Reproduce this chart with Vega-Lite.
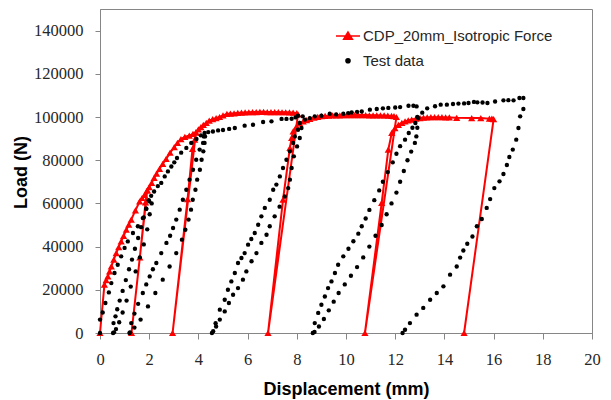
{
  "$schema": "https://vega.github.io/schema/vega-lite/v6.json",
  "width": 492,
  "height": 324,
  "autosize": {"type": "none"},
  "padding": {"left": 100, "top": 9, "right": 19, "bottom": 67},
  "background": "white",
  "config": {
    "view": {"stroke": "#868686", "strokeWidth": 1},
    "axis": {
      "grid": false,
      "domainColor": "#868686",
      "tickColor": "#868686",
      "labelFont": "Liberation Sans Narrow",
      "labelFontSize": 16.5,
      "labelColor": "#262626",
      "titleFont": "Liberation Sans",
      "titleFontWeight": "bold",
      "titleFontSize": 18,
      "titleColor": "#000000"
    }
  },
  "datasets": {
    "cdp": [
      {"i":1,"x":0,"y":0},{"i":2,"x":0.18,"y":22400},{"i":3,"x":0.25,"y":24500},{"i":4,"x":0.32,"y":26200},{"i":5,"x":0.39,"y":28500},{"i":6,"x":0.46,"y":30800},{"i":7,"x":0.56,"y":34000},{"i":8,"x":0.66,"y":37000},{"i":9,"x":0.76,"y":39800},{"i":10,"x":0.86,"y":42400},{"i":11,"x":0.96,"y":45000},{"i":12,"x":1.07,"y":47800},{"i":13,"x":1.17,"y":50200},{"i":14,"x":1.27,"y":52500},{"i":15,"x":1.44,"y":56800},{"i":16,"x":1.61,"y":60900},{"i":17,"x":1.71,"y":62500},{"i":18,"x":1.81,"y":64000},{"i":19,"x":1.92,"y":66000},
      {"i":20,"x":1.28,"y":0},{"i":21,"x":1.62,"y":35000},{"i":22,"x":1.85,"y":60500},{"i":23,"x":1.92,"y":66000},{"i":24,"x":2.0,"y":67500},{"i":25,"x":2.1,"y":69500},{"i":26,"x":2.2,"y":71800},{"i":27,"x":2.3,"y":73800},{"i":28,"x":2.42,"y":76000},{"i":29,"x":2.55,"y":78300},{"i":30,"x":2.69,"y":80600},{"i":31,"x":2.85,"y":83500},{"i":32,"x":3.02,"y":86000},{"i":33,"x":3.15,"y":88000},{"i":34,"x":3.29,"y":89800},{"i":35,"x":3.45,"y":90800},{"i":36,"x":3.63,"y":91400},{"i":37,"x":3.78,"y":92200},{"i":38,"x":3.9,"y":92900},
      {"i":39,"x":2.95,"y":0},{"i":40,"x":3.56,"y":62000},{"i":41,"x":3.76,"y":85200},{"i":42,"x":3.85,"y":89500},{"i":43,"x":3.9,"y":92900},{"i":44,"x":4.0,"y":94300},{"i":45,"x":4.1,"y":95300},{"i":46,"x":4.2,"y":96300},{"i":47,"x":4.32,"y":97300},{"i":48,"x":4.44,"y":98300},{"i":49,"x":4.58,"y":99000},{"i":50,"x":4.72,"y":99500},{"i":51,"x":4.86,"y":100000},{"i":52,"x":5.0,"y":100700},{"i":53,"x":5.16,"y":101400},{"i":54,"x":5.3,"y":101600},{"i":55,"x":5.45,"y":101700},{"i":56,"x":5.6,"y":101900},{"i":57,"x":5.75,"y":102000},{"i":58,"x":5.9,"y":102100},{"i":59,"x":6.05,"y":102200},{"i":60,"x":6.2,"y":102300},{"i":61,"x":6.35,"y":102300},{"i":62,"x":6.5,"y":102400},{"i":63,"x":6.65,"y":102400},{"i":64,"x":6.8,"y":102300},{"i":65,"x":6.95,"y":102300},{"i":66,"x":7.1,"y":102300},{"i":67,"x":7.25,"y":102300},{"i":68,"x":7.4,"y":102200},{"i":69,"x":7.55,"y":102200},{"i":70,"x":7.7,"y":102100},{"i":71,"x":7.85,"y":102000},{"i":72,"x":8.0,"y":101800},{"i":73,"x":8.05,"y":101200},
      {"i":74,"x":6.83,"y":0},{"i":75,"x":7.44,"y":61700},{"i":76,"x":7.72,"y":85700},{"i":77,"x":7.79,"y":90300},{"i":78,"x":7.85,"y":93300},{"i":79,"x":7.99,"y":95700},{"i":80,"x":8.12,"y":97000},{"i":81,"x":8.26,"y":98000},{"i":82,"x":8.4,"y":98600},{"i":83,"x":8.53,"y":99100},{"i":84,"x":8.7,"y":99700},{"i":85,"x":8.85,"y":100100},{"i":86,"x":9.0,"y":100400},{"i":87,"x":9.15,"y":100500},{"i":88,"x":9.3,"y":100600},{"i":89,"x":9.45,"y":100700},{"i":90,"x":9.6,"y":100800},{"i":91,"x":9.75,"y":100800},{"i":92,"x":9.9,"y":100900},{"i":93,"x":10.05,"y":100900},{"i":94,"x":10.2,"y":100900},{"i":95,"x":10.35,"y":100900},{"i":96,"x":10.5,"y":100900},{"i":97,"x":10.65,"y":100900},{"i":98,"x":10.8,"y":100900},{"i":99,"x":10.95,"y":100800},{"i":100,"x":11.1,"y":100800},{"i":101,"x":11.25,"y":100800},{"i":102,"x":11.4,"y":100700},{"i":103,"x":11.55,"y":100700},{"i":104,"x":11.7,"y":100600},{"i":105,"x":11.85,"y":100500},{"i":106,"x":11.95,"y":100400},{"i":107,"x":12.05,"y":100000},
      {"i":108,"x":10.77,"y":0},{"i":109,"x":11.45,"y":60200},{"i":110,"x":11.72,"y":84900},{"i":111,"x":11.86,"y":92600},{"i":112,"x":11.99,"y":94900},{"i":113,"x":12.13,"y":96400},{"i":114,"x":12.27,"y":97300},{"i":115,"x":12.4,"y":98000},{"i":116,"x":12.53,"y":98400},{"i":117,"x":12.67,"y":98800},{"i":118,"x":12.84,"y":99200},{"i":119,"x":13.01,"y":99500},{"i":120,"x":13.15,"y":99700},{"i":121,"x":13.3,"y":99800},{"i":122,"x":13.45,"y":99900},{"i":123,"x":13.6,"y":99900},{"i":124,"x":13.75,"y":99900},{"i":125,"x":13.9,"y":99900},{"i":126,"x":14.05,"y":99800},{"i":127,"x":14.2,"y":99800},{"i":128,"x":14.5,"y":99600},{"i":129,"x":15.11,"y":99500},{"i":130,"x":15.48,"y":99500},{"i":131,"x":15.83,"y":99200},{"i":132,"x":15.93,"y":99200},{"i":133,"x":16.0,"y":99000},
      {"i":134,"x":14.8,"y":0}
    ],
    "test": [
      {"x":0,"y":0},{"x":0,"y":6200},{"x":0.11,"y":9500},{"x":0.22,"y":13900},{"x":0.36,"y":18800},{"x":0.46,"y":23100},{"x":0.59,"y":27800},{"x":0.72,"y":31600},{"x":0.86,"y":35500},{"x":1.0,"y":39400},{"x":1.13,"y":42400},{"x":1.34,"y":46300},{"x":1.54,"y":49400},{"x":1.74,"y":53200},{"x":1.88,"y":57500},{"x":2.0,"y":61000},{"x":2.08,"y":63500},
      {"x":2.1,"y":60000},{"x":2.02,"y":55000},{"x":1.92,"y":48000},{"x":1.78,"y":41000},{"x":1.62,"y":35000},{"x":1.45,"y":28500},{"x":1.25,"y":21500},{"x":1.08,"y":15000},{"x":0.92,"y":9500},{"x":0.78,"y":5000},{"x":0.65,"y":1800},{"x":0.57,"y":300},
      {"x":0.53,"y":0},{"x":0.55,"y":4600},{"x":0.63,"y":7700},{"x":0.7,"y":11000},{"x":0.8,"y":15000},{"x":0.92,"y":19500},{"x":1.05,"y":24500},{"x":1.18,"y":29500},{"x":1.3,"y":34000},{"x":1.42,"y":39000},{"x":1.55,"y":44000},{"x":1.67,"y":49000},{"x":1.78,"y":53500},{"x":1.88,"y":57500},{"x":1.98,"y":61500},
      {"x":2.2,"y":65500},{"x":2.35,"y":68000},{"x":2.49,"y":69500},{"x":2.63,"y":72500},{"x":2.76,"y":74800},{"x":2.9,"y":77100},{"x":3.02,"y":79000},{"x":3.13,"y":81000},{"x":3.3,"y":83500},{"x":3.51,"y":85700},{"x":3.71,"y":88000},{"x":3.92,"y":89800},{"x":4.1,"y":91500},{"x":4.25,"y":92600},
      {"x":4.27,"y":91000},{"x":4.25,"y":88000},{"x":4.2,"y":84100},{"x":4.13,"y":80200},{"x":4.06,"y":75600},{"x":3.95,"y":71000},{"x":3.88,"y":66300},{"x":3.77,"y":61700},{"x":3.7,"y":57100},{"x":3.6,"y":52500},{"x":3.47,"y":47800},{"x":3.33,"y":43200},{"x":3.1,"y":37000},{"x":2.83,"y":30800},{"x":2.55,"y":24700},{"x":2.25,"y":18500},{"x":1.95,"y":12300},{"x":1.65,"y":6200},{"x":1.4,"y":2500},{"x":1.22,"y":300},
      {"x":1.2,"y":0},{"x":1.27,"y":4600},{"x":1.4,"y":9000},{"x":1.55,"y":13500},{"x":1.74,"y":18500},{"x":1.88,"y":22500},{"x":2.02,"y":26200},{"x":2.15,"y":29500},{"x":2.29,"y":32400},{"x":2.49,"y":37000},{"x":2.7,"y":41700},{"x":2.85,"y":45000},{"x":2.97,"y":48600},{"x":3.1,"y":52500},{"x":3.24,"y":57100},{"x":3.37,"y":61700},{"x":3.51,"y":66300},{"x":3.64,"y":71000},{"x":3.78,"y":75600},{"x":3.91,"y":80200},{"x":4.05,"y":84900},{"x":4.19,"y":88000},{"x":4.22,"y":91000},
      {"x":4.4,"y":93000},{"x":4.59,"y":93300},{"x":4.8,"y":93800},{"x":5.0,"y":94000},{"x":5.25,"y":94500},{"x":5.48,"y":94900},{"x":5.88,"y":96000},{"x":6.22,"y":96400},{"x":6.63,"y":97700},{"x":6.97,"y":98000},{"x":7.38,"y":99100},{"x":7.58,"y":99100},{"x":7.79,"y":99200},{"x":7.95,"y":99800},{"x":8.05,"y":100600},
      {"x":8.24,"y":100300},{"x":8.19,"y":94900},{"x":8.12,"y":90300},{"x":8.01,"y":86400},{"x":7.88,"y":81800},{"x":7.79,"y":76400},{"x":7.72,"y":71000},{"x":7.65,"y":67100},{"x":7.51,"y":63200},{"x":7.3,"y":58500},{"x":7.1,"y":54000},{"x":6.9,"y":49400},{"x":6.77,"y":45500},{"x":6.56,"y":41700},{"x":6.36,"y":37000},{"x":6.16,"y":33200},{"x":5.95,"y":28500},{"x":5.81,"y":24700},{"x":5.61,"y":20800},{"x":5.41,"y":17700},{"x":5.24,"y":13900},{"x":5.07,"y":10000},{"x":4.87,"y":6200},{"x":4.72,"y":3000},{"x":4.6,"y":800},
      {"x":4.55,"y":0},{"x":4.7,"y":4500},{"x":4.87,"y":10800},{"x":5.07,"y":15400},{"x":5.2,"y":20000},{"x":5.34,"y":23900},{"x":5.48,"y":27800},{"x":5.61,"y":32400},{"x":5.75,"y":34700},{"x":5.88,"y":37000},{"x":6.02,"y":40900},{"x":6.15,"y":43500},{"x":6.29,"y":46300},{"x":6.43,"y":50100},{"x":6.56,"y":54000},{"x":6.7,"y":57900},{"x":6.9,"y":61700},{"x":7.04,"y":66300},{"x":7.17,"y":68700},{"x":7.31,"y":72500},{"x":7.44,"y":76400},{"x":7.58,"y":80200},{"x":7.72,"y":84100},{"x":7.85,"y":88000},{"x":7.92,"y":91000},{"x":8.05,"y":94100},{"x":8.12,"y":97200},
      {"x":8.33,"y":98800},{"x":8.53,"y":99500},{"x":8.73,"y":100300},{"x":9.0,"y":100600},{"x":9.34,"y":101500},{"x":9.6,"y":101200},{"x":9.89,"y":101500},{"x":10.09,"y":101800},{"x":10.23,"y":102100},{"x":10.45,"y":102400},{"x":10.64,"y":102600},{"x":10.97,"y":103400},{"x":11.25,"y":103700},{"x":11.5,"y":104000},{"x":11.72,"y":104200},{"x":12.0,"y":104400},{"x":12.2,"y":104600},{"x":12.54,"y":105200},{"x":12.74,"y":105200},{"x":12.87,"y":104900},
      {"x":12.9,"y":100000},{"x":12.9,"y":95000},{"x":12.86,"y":91000},{"x":12.8,"y":88000},{"x":12.65,"y":84000},{"x":12.5,"y":80000},{"x":12.35,"y":75000},{"x":12.2,"y":70000},{"x":12.05,"y":65000},{"x":11.85,"y":60000},{"x":11.65,"y":55000},{"x":11.45,"y":50000},{"x":11.2,"y":45000},{"x":10.95,"y":40000},{"x":10.7,"y":35000},{"x":10.45,"y":30500},{"x":10.2,"y":26500},{"x":9.95,"y":22500},{"x":9.7,"y":18500},{"x":9.5,"y":14500},{"x":9.3,"y":10500},{"x":9.1,"y":6500},{"x":8.9,"y":3000},{"x":8.72,"y":500},
      {"x":8.65,"y":0},{"x":8.73,"y":4600},{"x":8.87,"y":9300},{"x":9.0,"y":13100},{"x":9.14,"y":16900},{"x":9.27,"y":20800},{"x":9.41,"y":23900},{"x":9.55,"y":27800},{"x":9.68,"y":31600},{"x":9.89,"y":35500},{"x":10.1,"y":39000},{"x":10.3,"y":42500},{"x":10.5,"y":46000},{"x":10.64,"y":49400},{"x":10.8,"y":53000},{"x":10.95,"y":57000},{"x":11.15,"y":61500},{"x":11.35,"y":66000},{"x":11.5,"y":70000},{"x":11.7,"y":74500},{"x":11.9,"y":79000},{"x":12.05,"y":83000},{"x":12.2,"y":86500},{"x":12.4,"y":89500},{"x":12.55,"y":92600},{"x":12.7,"y":95000},{"x":12.82,"y":97200},{"x":12.94,"y":99500},
      {"x":13.1,"y":102000},{"x":13.3,"y":104000},{"x":13.62,"y":105000},{"x":13.85,"y":105700},{"x":14.1,"y":105700},{"x":14.35,"y":106000},{"x":14.57,"y":106200},{"x":14.8,"y":106300},{"x":14.98,"y":106500},{"x":15.2,"y":107000},{"x":15.34,"y":106800},{"x":15.55,"y":106700},{"x":15.75,"y":106500},{"x":16.06,"y":107200},{"x":16.4,"y":107700},{"x":16.6,"y":107800},{"x":16.81,"y":107700},{"x":17.05,"y":108800},{"x":17.21,"y":108800},
      {"x":17.21,"y":103700},{"x":17.08,"y":100300},{"x":17.01,"y":94900},{"x":16.92,"y":89500},{"x":16.78,"y":84900},{"x":16.64,"y":81500},{"x":16.54,"y":77800},{"x":16.4,"y":73600},{"x":16.24,"y":70200},{"x":16.03,"y":67100},{"x":15.86,"y":62000},{"x":15.72,"y":57900},{"x":15.52,"y":52800},{"x":15.32,"y":49400},{"x":15.14,"y":44700},{"x":14.93,"y":41300},{"x":14.77,"y":38200},{"x":14.64,"y":34900},{"x":14.5,"y":30800},{"x":14.23,"y":27000},{"x":13.96,"y":21600},{"x":13.69,"y":18500},{"x":13.42,"y":15400},{"x":13.14,"y":11600},{"x":12.87,"y":8500},{"x":12.6,"y":4600},{"x":12.4,"y":1500},{"x":12.3,"y":0}
    ]
  },
  "encoding": {
    "x": {
      "field": "x", "type": "quantitative",
      "scale": {"domain": [0, 20], "nice": false},
      "axis": {
        "title": "Displacement (mm)",
        "values": [0, 2, 4, 6, 8, 10, 12, 14, 16, 18, 20],
        "format": "d", "tickSize": 6, "labelPadding": 12,
        "labelFlush": false, "labelOverlap": false,
        "titleBaseline": "alphabetic", "titleY": 61
      }
    },
    "y": {
      "field": "y", "type": "quantitative",
      "scale": {"domain": [0, 150000], "nice": false},
      "axis": {
        "title": "Load (N)",
        "values": [0, 20000, 40000, 60000, 80000, 100000, 120000, 140000],
        "format": "d", "tickSize": 5, "labelPadding": 12,
        "labelFlush": false, "labelOverlap": false,
        "titleBaseline": "alphabetic", "titleX": -73.5, "titleY": 163
      }
    }
  },
  "layer": [
    {
      "data": {"name": "cdp"},
      "mark": {"type": "line", "strokeWidth": 2},
      "encoding": {
        "order": {"field": "i", "type": "quantitative"},
        "color": {
          "datum": "CDP_20mm_Isotropic Force", "type": "nominal",
          "scale": {"domain": ["CDP_20mm_Isotropic Force", "Test data"], "range": ["#ff0000", "#000000"]},
          "legend": {
            "title": null, "orient": "none", "legendX": 235, "legendY": 14,
            "padding": 0, "symbolSize": 576, "rowPadding": 3.7, "labelOffset": 2,
            "labelLimit": 400,
            "labelFont": "Liberation Sans", "labelFontSize": 15, "labelColor": "#262626",
            "encode": {
              "symbols": {
                "update": {
                  "shape": {"signal": "datum.value === 'Test data' ? 'circle' : 'M-1,0L1,0M0,-0.33L0.36,0.27L-0.36,0.27Z'"},
                  "size": {"signal": "datum.value === 'Test data' ? 16 : 576"},
                  "fill": {"signal": "datum.value === 'Test data' ? '#000000' : '#ff0000'"},
                  "stroke": {"signal": "datum.value === 'Test data' ? 'transparent' : '#ff0000'"},
                  "strokeWidth": {"value": 1.6},
                  "opacity": {"value": 1}
                }
              }
            }
          }
        }
      }
    },
    {
      "data": {"name": "cdp"},
      "mark": {"type": "point", "shape": "triangle-up", "filled": true, "size": 52, "opacity": 1},
      "encoding": {
        "color": {"datum": "CDP_20mm_Isotropic Force", "type": "nominal"}
      }
    },
    {
      "data": {"name": "test"},
      "mark": {"type": "point", "shape": "circle", "filled": true, "size": 19, "opacity": 1},
      "encoding": {
        "color": {"datum": "Test data", "type": "nominal"}
      }
    }
  ]
}
